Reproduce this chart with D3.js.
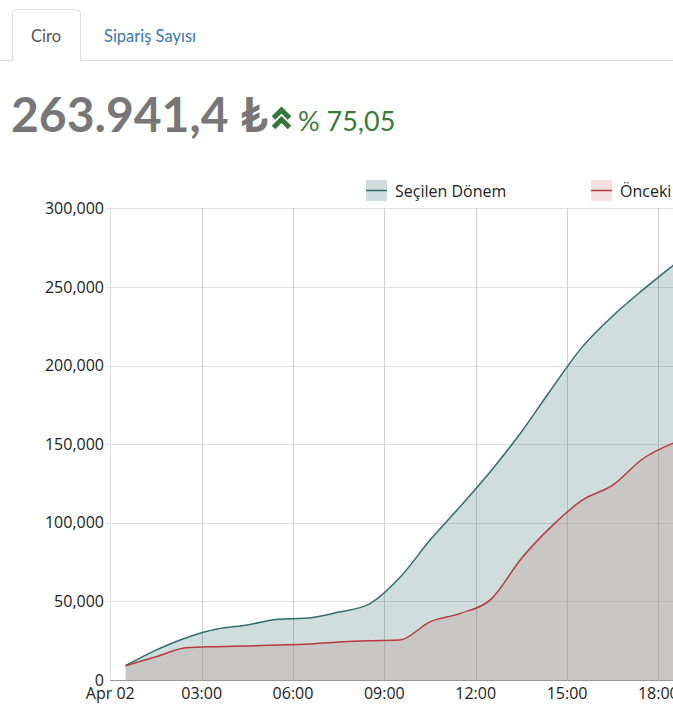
<!DOCTYPE html>
<html>
<head>
<meta charset="utf-8">
<script src="https://cdn.jsdelivr.net/npm/d3@7"></script>
<style>
  html, body { margin:0; padding:0; background:#fff; overflow:hidden; }
  svg { display:block; }
</style>
</head>
<body>
<svg id="chart"></svg>
<script>
// Ciro panel: tabs, headline total + change, cumulative revenue area chart.
// Hourly points sit on the half hour (00:30 .. 18:30).
const TIMES = ["00:30","01:30","02:30","03:30","04:30","05:30","06:30","07:30","08:30","09:30",
               "10:30","11:30","12:30","13:30","14:30","15:30","16:30","17:30","18:30"];
const SECILEN = [9100, 19000, 26900, 32400, 35000, 38600, 39400, 43200, 48300, 65000,
                 89000, 110600, 133000, 157800, 185400, 211900, 231600, 248300, 263941.4];
const ONCEKI  = [9100, 14800, 20500, 21200, 21600, 22200, 22900, 24200, 25000, 25400,
                 37000, 42400, 51300, 77300, 97900, 114400, 123900, 140900, 150780];
const TABS = ["Ciro", "Sipariş Sayısı"];
const SERIES = ["Seçilen Dönem", "Önceki Dönem"];
const Y_TICKS = [0, 50000, 100000, 150000, 200000, 250000, 300000];
const HEADLINE = "263.941,4 ₺";
const CHANGE = "% 75,05";

const W = 760, H = 706;
const TEAL = "#2f6e6b", RED = "#b73a3d";
const parse = d3.timeParse("%Y-%m-%d %H:%M");
const rows = TIMES.map((t,i)=>({ t: parse("2024-04-02 "+t), a: SECILEN[i], b: ONCEKI[i] }));

const svg = d3.select("#chart").attr("width", W).attr("height", H);

// --- tabs ---
svg.append("line").attr("x1",0).attr("x2",W).attr("y1",60.5).attr("y2",60.5)
   .attr("stroke","#ddd");
svg.append("path")
   .attr("d","M12.5,61 V13.5 Q12.5,9.5 16.5,9.5 H76.5 Q80.5,9.5 80.5,13.5 V61")
   .attr("fill","#fff").attr("stroke","#ddd");
svg.append("text").attr("x",31).attr("y",42).text(TABS[0])
   .attr("font-family","Lato, 'Open Sans', sans-serif").attr("font-size",16.5).attr("fill","#555");
svg.append("text").attr("x",104).attr("y",42).text(TABS[1])
   .attr("font-family","Lato, 'Open Sans', sans-serif").attr("font-size",16.5).attr("fill","#3a78ad");

// --- headline ---
svg.append("text").attr("x",11).attr("y",132).text(HEADLINE)
   .attr("font-family","Lato, 'DejaVu Sans', sans-serif").attr("font-weight",700)
   .attr("font-size",48).attr("fill","#777");
// double angle-up icon
const chev = svg.append("g").attr("fill","none").attr("stroke","#35773a")
   .attr("stroke-width",5).attr("stroke-linejoin","miter").attr("stroke-linecap","butt");
chev.append("polyline").attr("points","273.5,118 281.5,110 289.5,118");
chev.append("polyline").attr("points","273.5,127.5 281.5,119.5 289.5,127.5");
svg.append("text").attr("x",298).attr("y",131).text(CHANGE)
   .attr("font-family","Lato, 'Open Sans', sans-serif").attr("font-size",27).attr("fill","#3b7a3b");

// --- chart ---
const x = d3.scaleTime()
  .domain([parse("2024-04-02 00:00"), parse("2024-04-02 18:30")])
  .range([110.3, 673.6]);
const y = d3.scaleLinear().domain([0, 300000]).range([680, 208.4]);

const font = "'Open Sans', sans-serif";
const xTicks = d3.timeHour.range(parse("2024-04-02 00:00"), parse("2024-04-02 21:00"), 3);

// grid
const grid = svg.append("g");
grid.selectAll("line.h").data(Y_TICKS.slice(1)).join("line").attr("class","h")
  .attr("x1",106).attr("x2",W).attr("y1",d=>Math.round(y(d))+0.5).attr("y2",d=>Math.round(y(d))+0.5)
  .attr("stroke","#e0e0e0");
grid.selectAll("line.v").data(xTicks).join("line").attr("class","v")
  .attr("x1",d=>Math.round(x(d))+0.5).attr("x2",d=>Math.round(x(d))+0.5)
  .attr("y1",208).attr("y2",680).attr("stroke", (d,i)=> i===0 ? "#ddd" : "#cfcfcf");

// areas
const areaA = d3.area().curve(d3.curveMonotoneX).x(d=>x(d.t)).y0(y(0)).y1(d=>y(d.a));
const areaB = d3.area().curve(d3.curveMonotoneX).x(d=>x(d.t)).y0(y(0)).y1(d=>y(d.b));
const lineA = d3.line().curve(d3.curveMonotoneX).x(d=>x(d.t)).y(d=>y(d.a));
const lineB = d3.line().curve(d3.curveMonotoneX).x(d=>x(d.t)).y(d=>y(d.b));
svg.append("path").attr("d",areaA(rows)).attr("fill",TEAL).attr("fill-opacity",0.23);
svg.append("path").attr("d",areaB(rows)).attr("fill","rgb(187,148,147)").attr("fill-opacity",0.3);
svg.append("path").attr("d",lineA(rows)).attr("fill","none").attr("stroke",TEAL).attr("stroke-width",1.5);
svg.append("path").attr("d",lineB(rows)).attr("fill","none").attr("stroke",RED).attr("stroke-width",1.5);

// axes
svg.append("line").attr("x1",110).attr("x2",W).attr("y1",680.5).attr("y2",680.5).attr("stroke","#999");
const fmtX = d => d.getHours()===0 ? d3.timeFormat("%b %d")(d) : d3.timeFormat("%H:%M")(d);
svg.append("g").selectAll("text").data(xTicks).join("text")
  .attr("x",d=>x(d)).attr("y",699).attr("text-anchor","middle")
  .attr("font-family",font).attr("font-size",16).attr("fill","#222").text(fmtX);
svg.append("g").selectAll("text").data(Y_TICKS).join("text")
  .attr("x",104).attr("y",d=>y(d)).attr("dy","0.35em").attr("text-anchor","end")
  .attr("font-family",font).attr("font-size",16).attr("fill","#222").text(d3.format(","));

// legend
const LEG_X = [366, 591];
const LEG_FILL = ["#cfdcdd", "#f6e0e0"];
const LEG_LINE = [TEAL, RED];
const leg = svg.append("g").selectAll("g").data(SERIES).join("g")
  .attr("transform",(d,i)=>`translate(${LEG_X[i]},180)`);
leg.append("rect").attr("width",21).attr("height",21).attr("fill",(d,i)=>LEG_FILL[i]);
leg.append("line").attr("x1",0).attr("x2",21).attr("y1",10.5).attr("y2",10.5)
  .attr("stroke",(d,i)=>LEG_LINE[i]).attr("stroke-width",1.5);
leg.append("text").attr("x",29).attr("y",16.5).text(d=>d)
  .attr("font-family",font).attr("font-size",16).attr("fill","#222");
</script>
</body>
</html>
